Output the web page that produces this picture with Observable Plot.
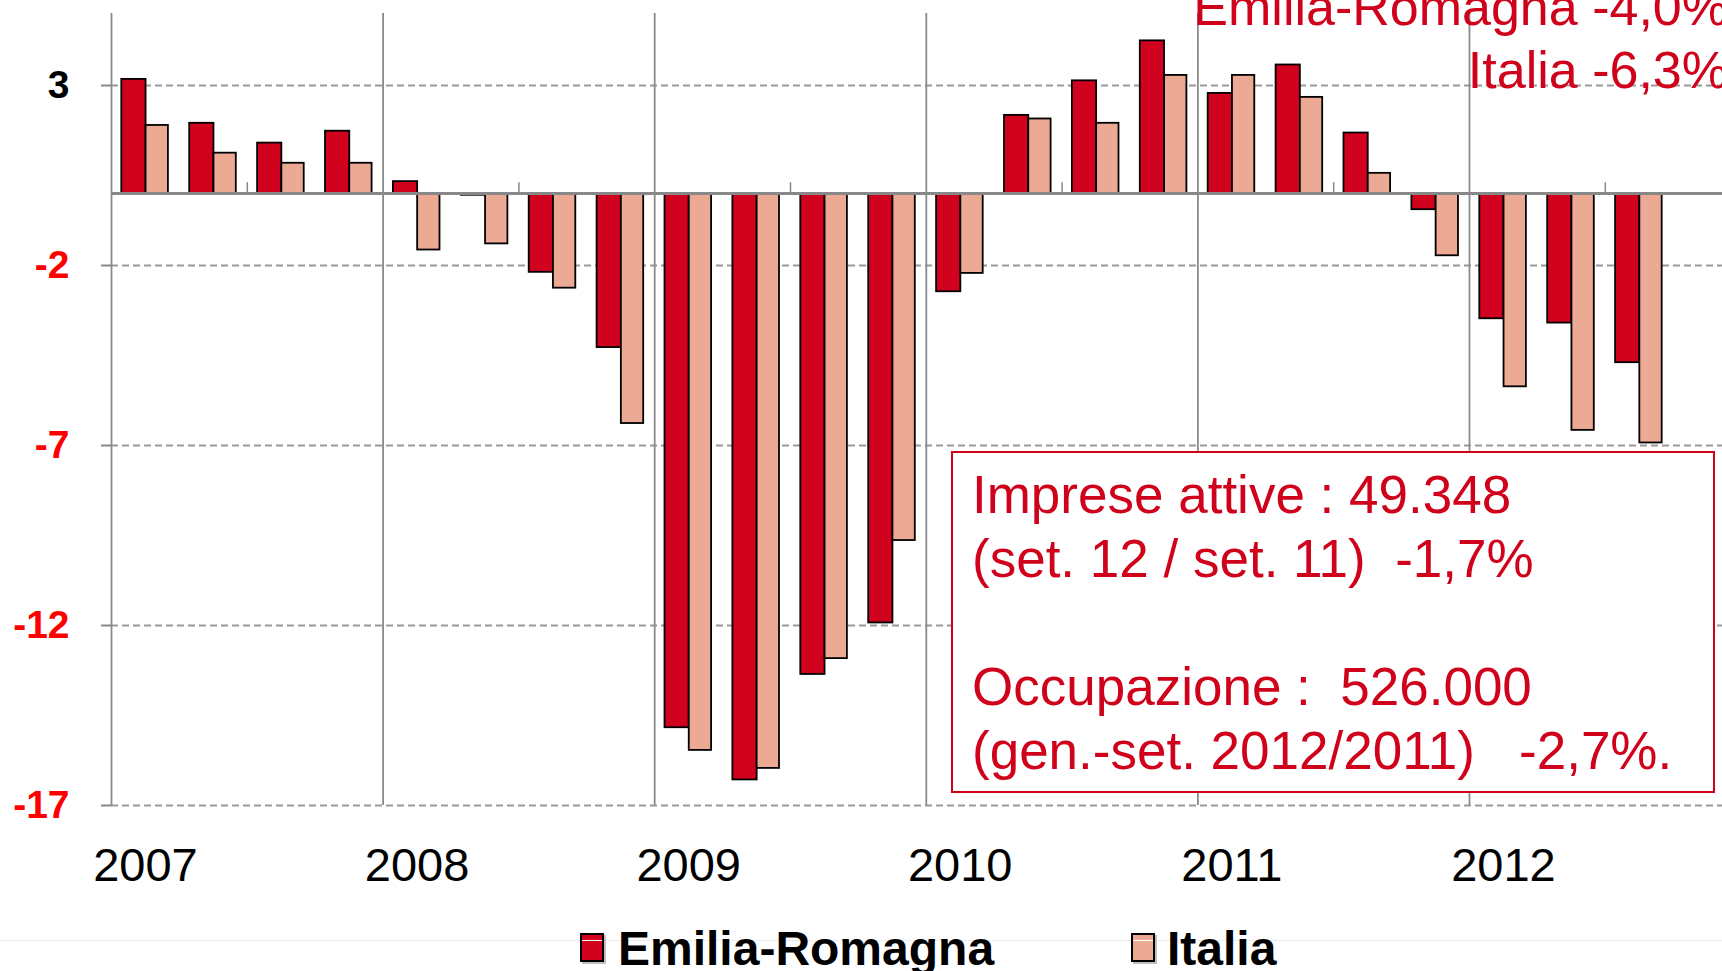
<!DOCTYPE html>
<html><head><meta charset="utf-8">
<script src="https://cdn.jsdelivr.net/npm/d3@7"></script>
<script src="https://cdn.jsdelivr.net/npm/@observablehq/plot@0.6"></script>
<style>
html,body{margin:0;padding:0;background:#fff;overflow:hidden;}
#wrap{position:relative;width:1722px;height:971px;overflow:hidden;font-family:"Liberation Sans",Arial,sans-serif;background:#fff;}
#chart{position:absolute;left:0;top:0;width:1760px;}
#chart svg{max-width:none !important;}
#chart g[aria-label="y-axis tick"]{stroke-width:2;}
.topnote{position:absolute;right:-6px;font-size:52px;line-height:52px;color:#d0021b;white-space:pre;text-align:right;}
#box{position:absolute;left:951px;top:451px;width:760px;height:338px;border:2px solid #d0021b;background:#fff;}
#boxtext{position:absolute;left:972px;top:463px;font-size:53px;line-height:64px;color:#d0021b;white-space:pre;}
.sw{position:absolute;top:933px;width:20px;height:25px;border:2px solid #000;box-shadow:2px 2px 0 rgba(0,0,0,0.25);}
.sw::after{content:"";position:absolute;left:0;right:0;top:5px;height:1px;background:#fff;}
.lg{position:absolute;top:925px;font-size:48px;line-height:48px;font-weight:bold;color:#000;white-space:pre;}
#sep{position:absolute;left:0;top:940px;width:1722px;height:1px;background:#ececec;}
</style></head><body>
<div id="wrap">
  <div id="chart"></div>
  <div id="sep"></div>
  <div class="topnote" id="n1" style="top:-19px"></div>
  <div class="topnote" id="n2" style="top:44px"></div>
  <div id="box"></div>
  <div id="boxtext"></div>
  <div class="sw" id="sw1" style="left:580px"></div>
  <div class="lg" id="lg1" style="left:618px"></div>
  <div class="sw" id="sw2" style="left:1131px"></div>
  <div class="lg" id="lg2" style="left:1167px"></div>
</div>
<script>
// ---- data ----
const years = [2007, 2008, 2009, 2010, 2011, 2012];
const quarterNames = ["I", "II", "III", "IV"];
const quarters = years.flatMap(y => quarterNames.map(q => `${y}-${q}`)); // 24 slots, last one empty
const emiliaRomagna = [3.17, 1.95, 1.40, 1.73, 0.33, -0.05, -2.19, -4.28,
  -14.84, -16.29, -13.36, -11.93, -2.73, 2.17, 3.13, 4.24,
  2.78, 3.57, 1.68, -0.45, -3.48, -3.60, -4.70];
const italia = [1.89, 1.12, 0.84, 0.84, -1.57, -1.40, -2.63, -6.39,
  -15.47, -15.97, -12.92, -9.64, -2.22, 2.07, 1.95, 3.28,
  3.28, 2.67, 0.56, -1.73, -5.37, -6.58, -6.93];
const yTicks = [3, -2, -7, -12, -17];
const seriesNames = ["Emilia-Romagna", "Italia"];
const seriesColors = ["#d0021e", "#eca994"];
const noteLines = ["Emilia-Romagna -4,0%", "Italia -6,3%"];
const boxLines = [
  "Imprese attive : 49.348",
  "(set. 12 / set. 11)  -1,7%",
  "",
  "Occupazione :  526.000",
  "(gen.-set. 2012/2011)   -2,7%."
];

// ---- build ----
const data = emiliaRomagna.map((v, i) => ({q: quarters[i], er: v, it: italia[i]}));
const yearStarts = years.map(y => `${y}-I`);
const halfYears = years.map(y => `${y}-III`);

const ML = 111, MR = 2, BW = 67.9;
const W = ML + MR + BW * quarters.length;
const bw = BW;

const chart = Plot.plot({
  width: W, height: 900,
  marginLeft: ML, marginRight: MR, marginTop: 13, marginBottom: 95,
  style: {fontFamily: "'Liberation Sans', Arial, sans-serif", color: "#888", background: "transparent", overflow: "visible", maxWidth: "none"},
  x: {type: "band", domain: quarters, padding: 0, round: false, axis: null},
  y: {domain: [-17, 5], ticks: yTicks, tickSize: 10, tickFormat: () => "", label: null},
  marks: [
    Plot.ruleY(yTicks, {stroke: "#999", strokeWidth: 2, strokeDasharray: "7,4"}),
    Plot.ruleX(yearStarts, {x: d => d, dx: -bw / 2, stroke: "#8a8a8a", strokeWidth: 1.8}),
    Plot.barY(data, {x: "q", y: "er", fill: seriesColors[0], stroke: "#000", strokeWidth: 1.8,
      insetLeft: 10.3, insetRight: bw / 2 - 0.6}),
    Plot.barY(data, {x: "q", y: "it", fill: seriesColors[1], stroke: "#000", strokeWidth: 1.8,
      insetLeft: bw / 2 + 0.6, insetRight: 11}),
    Plot.ruleY([0], {stroke: "#888", strokeWidth: 3}),
    Plot.ruleX(halfYears, {x: d => d, dx: -bw / 2, y1: 0, y2: 0.3, stroke: "#888", strokeWidth: 1.5}),
    Plot.text(yTicks, {y: d => d, text: d => String(d), frameAnchor: "left", dx: -42, textAnchor: "end",
      fill: d => d === 3 ? "#000000" : "#ff0000", fontWeight: "bold", fontSize: 39}),
    Plot.text(yearStarts, {x: d => d, text: d => d.slice(0, 4), frameAnchor: "bottom", dy: 76,
      fill: "#000000", fontSize: 47})
  ]
});
document.getElementById("chart").appendChild(chart);

document.getElementById("n1").textContent = noteLines[0];
document.getElementById("n2").textContent = noteLines[1];
document.getElementById("boxtext").textContent = boxLines.join("\n");
document.getElementById("sw1").style.background = seriesColors[0];
document.getElementById("sw2").style.background = seriesColors[1];
document.getElementById("lg1").textContent = seriesNames[0];
document.getElementById("lg2").textContent = seriesNames[1];
</script>
</body></html>
